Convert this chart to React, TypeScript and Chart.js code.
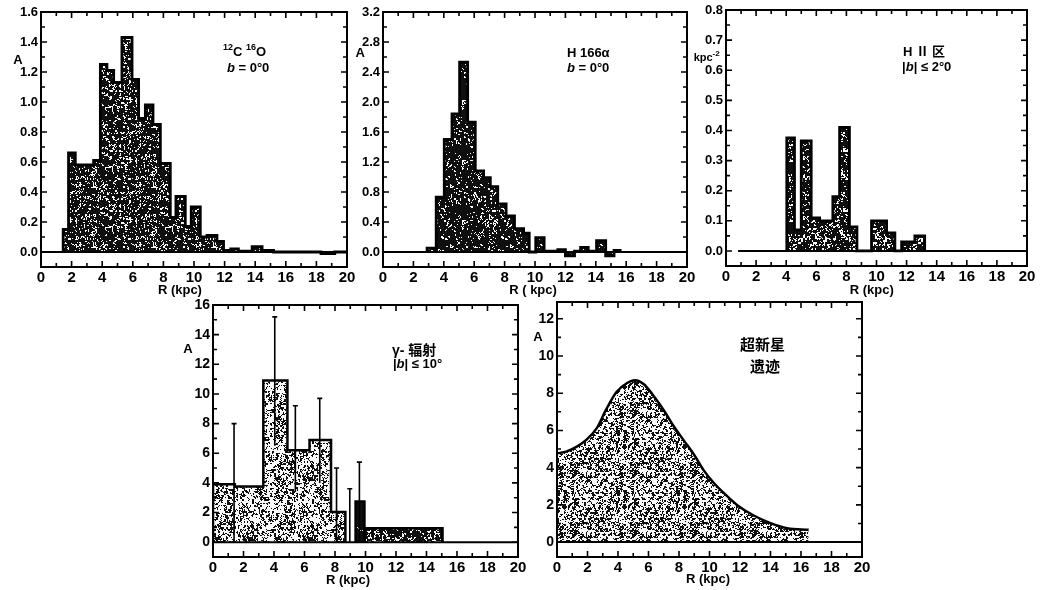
import React, { useEffect, useRef } from "react";
import { Chart, registerables } from "chart.js";

Chart.register(...registerables);

// ---------------- data ----------------
const xTickValues = [0, 2, 4, 6, 8, 10, 12, 14, 16, 18, 20];

// 12C16O, b = 0.0
const coEdges = [1.45, 1.8, 2.24, 3.44, 3.88, 4.31, 4.75, 5.29, 5.95, 6.38, 6.82, 7.32, 7.8, 8.45, 8.82, 9.43, 9.82, 10.41, 10.85, 11.5, 11.93, 12.4, 12.9, 13.8, 14.45, 15.2, 18.3, 19.2, 20];
const coValues = [0.15, 0.66, 0.58, 0.61, 1.25, 1.21, 1.13, 1.43, 1.15, 0.89, 0.98, 0.85, 0.59, 0.23, 0.37, 0.17, 0.3, 0.1, 0.11, 0.07, 0.01, 0.02, 0.005, 0.035, 0.01, 0.0, -0.01, 0];
const coYTicks = [0, 0.2, 0.4, 0.6, 0.8, 1.0, 1.2, 1.4, 1.6];

// H166alpha, b = 0.0
const h166Edges = [2.9, 3.5, 4.03, 4.54, 5.04, 5.57, 6.07, 6.62, 7.06, 7.55, 8.1, 8.65, 9.25, 9.62, 10.05, 10.6, 11.5, 12.0, 12.6, 13.0, 13.5, 14.05, 14.65, 15.2, 15.6];
const h166Values = [0.05, 0.73, 1.5, 1.84, 2.53, 1.73, 1.08, 0.99, 0.87, 0.64, 0.48, 0.31, 0.25, 0, 0.19, 0.01, 0.03, -0.05, 0.01, 0.06, 0.01, 0.15, -0.05, 0.02];
const h166YTicks = [0, 0.4, 0.8, 1.2, 1.6, 2.0, 2.4, 2.8, 3.2];

// HII regions, |b| <= 2.0
const hiiEdges = [4.04, 4.55, 5.0, 5.66, 6.22, 7.1, 7.55, 8.2, 8.7, 9.67, 10.67, 11.22, 11.67, 12.55, 13.2];
const hiiValues = [0.375, 0.07, 0.365, 0.11, 0.1, 0.18, 0.41, 0.08, 0, 0.1, 0.06, 0, 0.03, 0.05];
const hiiBaseline = [0.8, 20];
const hiiYTicks = [0, 0.1, 0.2, 0.3, 0.4, 0.5, 0.6, 0.7, 0.8];

// gamma rays, |b| <= 10
const gammaEdges = [0, 1.43, 3.3, 4.88, 6.33, 7.74, 8.68];
const gammaValues = [3.9, 3.75, 10.9, 6.2, 6.9, 2.04];
const gammaDarkEdges = [9.35, 9.93];
const gammaDarkValues = [2.74];
const gammaTailEdges = [9.93, 15.05];
const gammaTailValues = [0.94];
const gammaErrX = [1.38, 4.05, 5.4, 7.0, 8.1, 8.97, 9.6];
const gammaErrLo = [0, 6.5, 3.4, 4.0, 0, 0, 0];
const gammaErrHi = [8.0, 15.2, 9.2, 9.7, 5.0, 3.6, 5.4];
const gammaYTicks = [0, 2, 4, 6, 8, 10, 12, 14, 16];

// supernova remnants
const snrR = [0, 0.6, 1.3, 1.9, 2.6, 3.2, 3.9, 4.6, 5.1, 5.7, 6.3, 7.0, 7.6, 8.3, 9.0, 9.6, 10.3, 11.0, 11.8, 12.9, 14.0, 15.1, 16.5];
const snrA = [4.77, 4.86, 5.13, 5.48, 6.11, 7.09, 8.07, 8.55, 8.7, 8.48, 7.89, 7.09, 6.29, 5.48, 4.68, 3.88, 3.16, 2.59, 2.0, 1.43, 1.02, 0.75, 0.66];
const snrYTicks = [0, 2, 4, 6, 8, 10, 12];

// ---------------- styling ----------------
const SANS = "'Liberation Sans', 'DejaVu Sans', sans-serif";
const CJK = "'Noto Sans CJK SC', 'Noto Sans CJK JP', sans-serif";

type Part = { t: string; sup?: boolean; italic?: boolean; cjk?: boolean };
type TextSpec = { parts: Part[]; x: number; y: number; size: number; align?: "left" | "center"; baseline?: CanvasTextBaseline };
type Frame = { l: number; t: number; r: number; b: number };
type PanelSpec = {
  key: string;
  frame: Frame;
  pad: Frame;
  yMin: number;
  yMax: number;
  yTicks: number[];
  yMinorStep: number;
  decimals: number;
  ySize: number;
  texts: TextSpec[];
  err?: { x: number[]; lo: number[]; hi: number[] };
  datasets: (pat: (d: number, s: number) => CanvasPattern | string) => any[];
};

function hash(i: number, j: number, s: number) {
  let h = (Math.imul(i, 374761393) + Math.imul(j, 668265263) + Math.imul(s, 1442695041)) | 0;
  h = Math.imul(h ^ (h >>> 13), 1274126177);
  h ^= h >>> 16;
  return (h >>> 0) / 4294967296;
}

function makePattern(density: number, seed: number): CanvasPattern | string {
  const N = 60;
  const c = document.createElement("canvas");
  c.width = N;
  c.height = N;
  const g = c.getContext("2d");
  if (!g) return "#555";
  const img = g.createImageData(N, N);
  for (let j = 0; j < N; j++) {
    for (let i = 0; i < N; i++) {
      const v =
        0.4 * hash(i >> 1, j >> 1, seed) +
        0.25 * hash((i + 1) >> 2, (j + 2) >> 2, seed + 3) +
        0.35 * hash(i, j, seed + 11);
      const dark = v < density;
      const k = (j * N + i) * 4;
      const col = dark ? 15 : 250;
      img.data[k] = col;
      img.data[k + 1] = col;
      img.data[k + 2] = col;
      img.data[k + 3] = 255;
    }
  }
  g.putImageData(img, 0, 0);
  return g.createPattern(c, "repeat") || "#555";
}

function histo(edges: number[], values: number[], fill: any, width = 2.5) {
  const pts = [{ x: edges[0], y: 0 }, ...values.map((v, i) => ({ x: edges[i], y: v })), { x: edges[edges.length - 1], y: 0 }];
  return {
    data: pts,
    stepped: true,
    fill: "origin",
    backgroundColor: fill,
    borderColor: "#000",
    borderWidth: width,
    pointRadius: 0,
    borderJoinStyle: "miter",
  };
}

function baseline(xs: number[], width = 2) {
  return {
    data: xs.map((x) => ({ x, y: 0 })),
    fill: false,
    borderColor: "#000",
    borderWidth: width,
    pointRadius: 0,
  };
}

const titleR = (x: number, y: number): TextSpec => ({ parts: [{ t: "R (kpc)" }], x, y, size: 13, align: "center", baseline: "middle" });
const labelA = (x: number, y: number): TextSpec => ({ parts: [{ t: "A" }], x, y, size: 13, align: "center", baseline: "middle" });

const panels: PanelSpec[] = [
  {
    key: "co",
    frame: { l: 41, t: 12, r: 347, b: 267 },
    pad: { l: 40, t: 10, r: 10, b: 40 },
    yMin: -0.1,
    yMax: 1.6,
    yTicks: coYTicks,
    yMinorStep: 0.1,
    decimals: 1,
    ySize: 13,
    texts: [
      { parts: [{ t: "12", sup: true }, { t: "C " }, { t: "16", sup: true }, { t: "O" }], x: 11.9, y: 1.31, size: 13 },
      { parts: [{ t: "b", italic: true }, { t: " = 0°0" }], x: 12.15, y: 1.2, size: 13 },
      labelA(-1.5, 1.28),
      titleR(9.08, -0.253),
    ],
    datasets: (pat) => [baseline([0, 20]), histo(coEdges, coValues, pat(0.66, 3), 2.8)],
  },
  {
    key: "h166",
    frame: { l: 383, t: 12, r: 687, b: 267 },
    pad: { l: 45, t: 10, r: 10, b: 40 },
    yMin: -0.2,
    yMax: 3.2,
    yTicks: h166YTicks,
    yMinorStep: 0.2,
    decimals: 1,
    ySize: 13,
    texts: [
      { parts: [{ t: "H 166α" }], x: 12.1, y: 2.6, size: 13 },
      { parts: [{ t: "b", italic: true }, { t: " = 0°0" }], x: 12.1, y: 2.4, size: 13 },
      labelA(-1.5, 2.65),
      { parts: [{ t: "R ( kpc)" }], x: 9.87, y: -0.507, size: 13, align: "center", baseline: "middle" },
    ],
    datasets: (pat) => [baseline([0, 20]), histo(h166Edges, h166Values, pat(0.7, 5), 2.8)],
  },
  {
    key: "hii",
    frame: { l: 726, t: 10, r: 1027, b: 266 },
    pad: { l: 45, t: 8, r: 14, b: 40 },
    yMin: -0.05,
    yMax: 0.8,
    yTicks: hiiYTicks,
    yMinorStep: 0.05,
    decimals: 1,
    ySize: 13,
    texts: [
      { parts: [{ t: "H " }, { t: "Ⅱ", cjk: true }, { t: " 区", cjk: true }], x: 11.76, y: 0.647, size: 13 },
      { parts: [{ t: "|" }, { t: "b", italic: true }, { t: "| ≤ 2°0" }], x: 11.7, y: 0.597, size: 13 },
      { parts: [{ t: "kpc" }, { t: "-2", sup: true }], x: -2.15, y: 0.63, size: 11 },
      titleR(9.68, -0.13),
    ],
    datasets: (pat) => [baseline(hiiBaseline), histo(hiiEdges, hiiValues, pat(0.64, 7), 2.8)],
  },
  {
    key: "gamma",
    frame: { l: 213, t: 305, r: 518, b: 557 },
    pad: { l: 45, t: 10, r: 10, b: 40 },
    yMin: -1,
    yMax: 16,
    yTicks: gammaYTicks,
    yMinorStep: 1,
    decimals: 0,
    ySize: 14,
    texts: [
      { parts: [{ t: "γ- " }, { t: "辐射", cjk: true }], x: 11.74, y: 12.63, size: 14 },
      { parts: [{ t: "|" }, { t: "b", italic: true }, { t: "| ≤ 10°" }], x: 11.8, y: 11.75, size: 13 },
      labelA(-1.64, 12.97),
      titleR(8.85, -2.6),
    ],
    err: { x: gammaErrX, lo: gammaErrLo, hi: gammaErrHi },
    datasets: (pat) => [
      baseline([0, 20]),
      histo(gammaDarkEdges, gammaDarkValues, pat(0.92, 13)),
      histo(gammaTailEdges, gammaTailValues, pat(0.66, 17)),
      histo(gammaEdges, gammaValues, pat(0.45, 19)),
    ],
  },
  {
    key: "snr",
    frame: { l: 557, t: 302, r: 862, b: 557 },
    pad: { l: 45, t: 10, r: 12, b: 40 },
    yMin: -0.8,
    yMax: 12.9,
    yTicks: snrYTicks,
    yMinorStep: 1,
    decimals: 0,
    ySize: 14,
    texts: [
      { parts: [{ t: "超新星", cjk: true }], x: 12.0, y: 10.32, size: 15 },
      { parts: [{ t: "遗迹", cjk: true }], x: 12.66, y: 9.14, size: 15 },
      labelA(-1.25, 11.02),
      titleR(9.9, -2.03),
    ],
    datasets: (pat) => [
      baseline([0, 20]),
      {
        data: snrR.map((x, i) => ({ x, y: snrA[i] })),
        fill: "origin",
        backgroundColor: pat(0.46, 23),
        borderColor: "#000",
        borderWidth: 2.5,
        pointRadius: 0,
        cubicInterpolationMode: "monotone",
      },
    ],
  },
];

function drawRich(ctx: CanvasRenderingContext2D, spec: TextSpec, px: number, py: number) {
  const fontFor = (p: Part) => {
    const size = p.sup ? Math.round(spec.size * 0.72) : spec.size;
    const fam = p.cjk ? CJK : SANS;
    return `${p.italic ? "italic " : ""}bold ${size}px ${fam}`;
  };
  let total = 0;
  const widths = spec.parts.map((p) => {
    ctx.font = fontFor(p);
    const w = ctx.measureText(p.t).width;
    total += w;
    return w;
  });
  let x = spec.align === "center" ? px - total / 2 : px;
  ctx.textAlign = "left";
  ctx.textBaseline = spec.baseline ?? "alphabetic";
  spec.parts.forEach((p, i) => {
    ctx.font = fontFor(p);
    ctx.fillText(p.t, x, p.sup ? py - spec.size * 0.45 : py);
    x += widths[i];
  });
}

function decoPlugin(spec: PanelSpec) {
  return {
    id: "deco_" + spec.key,
    afterDatasetsDraw(chart: any) {
      const { ctx } = chart;
      const xs = chart.scales.x;
      const ys = chart.scales.y;
      if (spec.err) {
        ctx.save();
        ctx.strokeStyle = "#000";
        ctx.lineWidth = 1.6;
        spec.err.x.forEach((xv, i) => {
          const px = xs.getPixelForValue(xv);
          const y1 = ys.getPixelForValue(spec.err!.lo[i]);
          const y2 = ys.getPixelForValue(spec.err!.hi[i]);
          ctx.beginPath();
          ctx.moveTo(px, y1);
          ctx.lineTo(px, y2);
          ctx.moveTo(px - 2.5, y2);
          ctx.lineTo(px + 2.5, y2);
          ctx.stroke();
        });
        ctx.restore();
      }
    },
    afterDraw(chart: any) {
      const { ctx, chartArea: a } = chart;
      const xs = chart.scales.x;
      const ys = chart.scales.y;
      ctx.save();
      ctx.strokeStyle = "#000";
      ctx.fillStyle = "#000";
      ctx.lineWidth = 2;
      ctx.strokeRect(a.left, a.top, a.right - a.left, a.bottom - a.top);
      ctx.lineWidth = 1.6;
      ctx.beginPath();
      for (let v = 0; v <= 20; v += 1) {
        const len = v % 2 === 0 ? 6 : 4;
        const px = xs.getPixelForValue(v);
        ctx.moveTo(px, a.bottom);
        ctx.lineTo(px, a.bottom - len);
        ctx.moveTo(px, a.top);
        ctx.lineTo(px, a.top + len);
      }
      const top = spec.yTicks[spec.yTicks.length - 1];
      const n = Math.round(top / spec.yMinorStep);
      for (let k = 0; k <= n; k++) {
        const v = k * spec.yMinorStep;
        const len = k % 2 === 0 ? 6 : 4;
        const py = ys.getPixelForValue(v);
        ctx.moveTo(a.left, py);
        ctx.lineTo(a.left + len, py);
        ctx.moveTo(a.right, py);
        ctx.lineTo(a.right - len, py);
      }
      ctx.stroke();
      spec.texts.forEach((t) => {
        drawRich(ctx, t, xs.getPixelForValue(t.x), ys.getPixelForValue(t.y));
      });
      ctx.restore();
    },
  };
}

function Panel({ spec }: { spec: PanelSpec }) {
  const ref = useRef<HTMLCanvasElement>(null);
  const W = spec.frame.r - spec.frame.l + spec.pad.l + spec.pad.r;
  const H = spec.frame.b - spec.frame.t + spec.pad.t + spec.pad.b;

  useEffect(() => {
    const canvas = ref.current;
    if (!canvas) return;
    const chart = new Chart(canvas, {
      type: "line",
      data: { datasets: spec.datasets(makePattern) },
      options: {
        animation: false,
        responsive: false,
        devicePixelRatio: 1,
        layout: { padding: { left: 0, top: spec.pad.t, right: spec.pad.r, bottom: 0 } },
        plugins: { legend: { display: false }, tooltip: { enabled: false } },
        elements: { point: { radius: 0 } },
        scales: {
          x: {
            type: "linear",
            min: 0,
            max: 20,
            grid: { display: false, drawTicks: false },
            border: { display: false },
            afterBuildTicks: (s: any) => {
              s.ticks = xTickValues.map((v) => ({ value: v }));
            },
            afterFit: (s: any) => {
              s.height = spec.pad.b;
              s.paddingLeft = 0;
              s.paddingRight = 0;
            },
            ticks: {
              autoSkip: false,
              maxRotation: 0,
              minRotation: 0,
              padding: 2,
              color: "#000",
              font: { family: SANS, size: 15, weight: "bold" },
              callback: (v: any) => String(v),
            },
          },
          y: {
            type: "linear",
            min: spec.yMin,
            max: spec.yMax,
            grid: { display: false, drawTicks: false },
            border: { display: false },
            afterBuildTicks: (s: any) => {
              s.ticks = spec.yTicks.map((v) => ({ value: v }));
            },
            afterFit: (s: any) => {
              s.width = spec.pad.l;
              s.paddingTop = 0;
              s.paddingBottom = 0;
            },
            ticks: {
              autoSkip: false,
              padding: 3,
              color: "#000",
              font: { family: SANS, size: spec.ySize, weight: "bold" },
              callback: (v: any) => Number(v).toFixed(spec.decimals),
            },
          },
        },
      } as any,
      plugins: [decoPlugin(spec)],
    });
    return () => chart.destroy();
  }, [spec]);

  return (
    <canvas
      ref={ref}
      width={W}
      height={H}
      style={{
        position: "absolute",
        left: spec.frame.l - spec.pad.l,
        top: spec.frame.t - spec.pad.t,
        width: W,
        height: H,
      }}
    />
  );
}

export default function App() {
  return (
    <div style={{ position: "absolute", left: 0, top: 0, width: 1042, height: 590, background: "#fff", overflow: "hidden" }}>
      {panels.map((p) => (
        <Panel key={p.key} spec={p} />
      ))}
    </div>
  );
}
